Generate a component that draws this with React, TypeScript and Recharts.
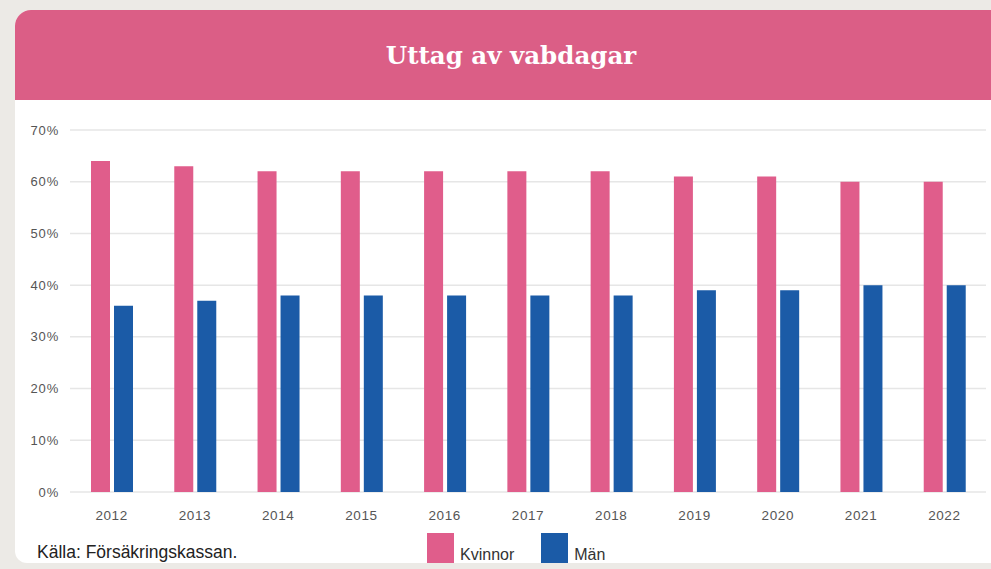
import { Bar, BarChart, CartesianGrid, XAxis, YAxis } from "recharts";

const YEARS = ["2012", "2013", "2014", "2015", "2016", "2017", "2018", "2019", "2020", "2021", "2022"];
const KVINNOR = [64, 63, 62, 62, 62, 62, 62, 61, 61, 60, 60];
const MAN = [36, 37, 38, 38, 38, 38, 38, 39, 39, 40, 40];
const Y_TICKS = [0, 10, 20, 30, 40, 50, 60, 70];

const PINK = "#db5e86";
const BAR_PINK = "#e05d8b";
const BLUE = "#1b5ba7";
const SANS = "'Liberation Sans', Arial, sans-serif";

const data = YEARS.map((year, i) => ({ year, kvinnor: KVINNOR[i], man: MAN[i] }));

function LegendItem({ color, label }: { color: string; label: string }) {
  return (
    <div style={{ display: "flex", alignItems: "flex-end", marginRight: 27 }}>
      <div style={{ width: 27, height: 30, background: color, marginRight: 6 }} />
      <span style={{ fontSize: 16, color: "#333", lineHeight: "16px" }}>{label}</span>
    </div>
  );
}

export default function App() {
  return (
    <div
      style={{
        position: "absolute",
        left: 0,
        top: 0,
        width: 991,
        height: 569,
        background: "#eceae6",
        overflow: "hidden",
        fontFamily: SANS,
      }}
    >
      <div
        style={{
          position: "absolute",
          left: 15,
          top: 10,
          width: 1000,
          height: 553,
          background: "#fff",
          borderRadius: "16px 0 0 12px",
          overflow: "hidden",
        }}
      >
        <div
          style={{
            height: 90,
            background: PINK,
            color: "#fff",
            display: "flex",
            alignItems: "center",
            justifyContent: "center",
            paddingRight: 8,
            fontFamily: "'DejaVu Serif', serif",
            fontWeight: "bold",
            fontSize: 24.5,
          }}
        >
          Uttag av vabdagar
        </div>
      </div>

      <div style={{ position: "absolute", left: 0, top: 110 }}>
        <BarChart
          width={991}
          height={420}
          data={data}
          margin={{ top: 20, right: 5, bottom: 0, left: 0 }}
          barCategoryGap="25%"
          barGap={4}
        >
          <CartesianGrid vertical={false} stroke="#e6e6e6" strokeWidth={1.5} />
          <XAxis
            dataKey="year"
            axisLine={false}
            tickLine={false}
            height={38}
            tickMargin={12}
            tick={{ fill: "#555", fontSize: 13.5, fontFamily: SANS, letterSpacing: 0.6 }}
          />
          <YAxis
            domain={[0, 70]}
            ticks={Y_TICKS}
            width={70}
            axisLine={false}
            tickLine={false}
            tickMargin={5}
            tickFormatter={(v) => `${v}%`}
            tick={{ fill: "#555", fontSize: 13, fontFamily: SANS, letterSpacing: 0.8 }}
          />
          <Bar dataKey="kvinnor" name="Kvinnor" fill={BAR_PINK} barSize={19} isAnimationActive={false} />
          <Bar dataKey="man" name="Män" fill={BLUE} barSize={19} isAnimationActive={false} />
        </BarChart>
      </div>

      <div
        style={{
          position: "absolute",
          left: 37,
          top: 542,
          fontSize: 17.5,
          color: "#222",
        }}
      >
        Källa: Försäkringskassan.
      </div>

      <div style={{ position: "absolute", left: 427, top: 533, display: "flex" }}>
        <LegendItem color={BAR_PINK} label="Kvinnor" />
        <LegendItem color={BLUE} label="Män" />
      </div>
    </div>
  );
}
